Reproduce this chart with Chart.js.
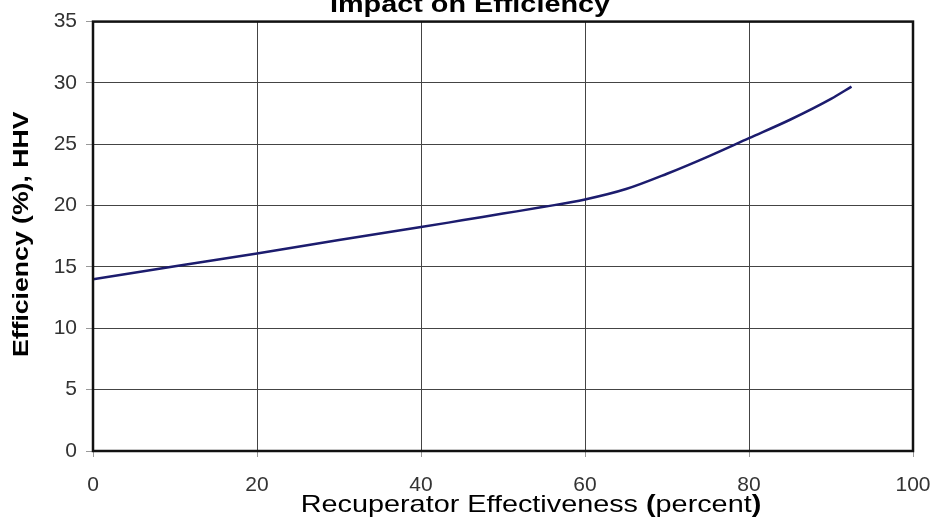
<!DOCTYPE html>
<html>
<head>
<meta charset="utf-8">
<script src="https://cdn.jsdelivr.net/npm/chart.js@4.4.1/dist/chart.umd.min.js"></script>
<style>
  html, body { margin: 0; padding: 0; background: #fff; }
  #wrap { position: relative; width: 935px; height: 524px; }
</style>
</head>
<body>
<div id="wrap"><canvas id="eff"></canvas></div>
<script>
// recuperator effectiveness (percent) vs efficiency (%, HHV)
const effectiveness = [0, 10, 20, 30, 40, 45, 50, 55, 60, 65, 70, 75, 80, 85, 90, 92.5];
const efficiency = [14.0, 15.05, 16.1, 17.2, 18.25, 18.8, 19.35, 19.9, 20.5, 21.35, 22.6, 24.0, 25.5, 27.0, 28.7, 29.7];

const chartTitle = 'Impact on Efficiency';
const yTitle = 'Efficiency (%), HHV';
const xTitleParts = [
  ['Recuperator Effectiveness ', ''],
  ['(', 'bold '],
  ['percent', ''],
  [')', 'bold ']
];

const points = effectiveness.map((x, i) => ({ x: x, y: efficiency[i] }));

// frame round the plot + the titles (text is a bit wide in the original)
const extras = {
  id: 'extras',
  afterDraw(chart) {
    const c = chart.ctx, a = chart.chartArea;
    const stretch = 1.2;
    c.save();
    c.strokeStyle = '#111';
    c.lineWidth = 2.5;
    c.strokeRect(a.left, a.top, a.right - a.left, a.bottom - a.top);

    c.fillStyle = '#000';
    c.textBaseline = 'alphabetic';

    // top title, mostly cut off at the top edge
    c.save();
    c.font = 'bold 24px Arial, "Liberation Sans", sans-serif';
    c.translate((a.left + a.right) / 2 - 33, 12);
    c.scale(stretch, 1);
    c.textAlign = 'center';
    c.fillText(chartTitle, 0, 0);
    c.restore();

    // y title
    c.save();
    c.font = 'bold 22px Arial, "Liberation Sans", sans-serif';
    c.translate(28, (a.top + a.bottom) / 2 - 2);
    c.rotate(-Math.PI / 2);
    c.scale(1.21, 1);
    c.textAlign = 'center';
    c.fillText(yTitle, 0, 0);
    c.restore();

    // x title with bold parentheses
    c.save();
    let w = 0;
    xTitleParts.forEach(p => {
      c.font = p[1] + '24px Arial, "Liberation Sans", sans-serif';
      w += c.measureText(p[0]).width;
    });
    c.translate((a.left + a.right) / 2 + 28, a.bottom + 61);
    c.scale(stretch, 1);
    c.textAlign = 'left';
    let x = -w / 2;
    xTitleParts.forEach(p => {
      c.font = p[1] + '24px Arial, "Liberation Sans", sans-serif';
      c.fillText(p[0], x, 0);
      x += c.measureText(p[0]).width;
    });
    c.restore();

    c.restore();
  }
};

new Chart(document.getElementById('eff'), {
  type: 'line',
  data: {
    datasets: [{
      data: points,
      borderColor: '#1c1c6e',
      borderWidth: 2.5,
      pointRadius: 0,
      cubicInterpolationMode: 'monotone',
      fill: false
    }]
  },
  options: {
    responsive: true,
    maintainAspectRatio: false,
    animation: false,
    layout: { padding: { top: 18, right: 22, left: 0, bottom: 0 } },
    plugins: {
      legend: { display: false },
      title: { display: false },
      tooltip: { enabled: false }
    },
    scales: {
      x: {
        type: 'linear',
        min: 0,
        max: 100,
        ticks: {
          stepSize: 20,
          color: '#333',
          padding: 16,
          maxRotation: 0,
          font: { family: 'Arial, "Liberation Sans", sans-serif', size: 21 }
        },
        grid: { color: '#444', lineWidth: 1, tickLength: 6, tickColor: '#999' },
        border: { display: false },
        afterFit(scale) {
          scale.height = 73;
          scale.paddingLeft = 0;
          scale.paddingRight = 0;
        }
      },
      y: {
        min: 0,
        max: 35,
        ticks: {
          stepSize: 5,
          color: '#333',
          padding: 9,
          font: { family: 'Arial, "Liberation Sans", sans-serif', size: 21 }
        },
        grid: { color: '#444', lineWidth: 1, tickLength: 7, tickColor: '#999' },
        border: { display: false },
        afterFit(scale) { scale.width = 93; }
      }
    }
  },
  plugins: [extras]
});
</script>
</body>
</html>
